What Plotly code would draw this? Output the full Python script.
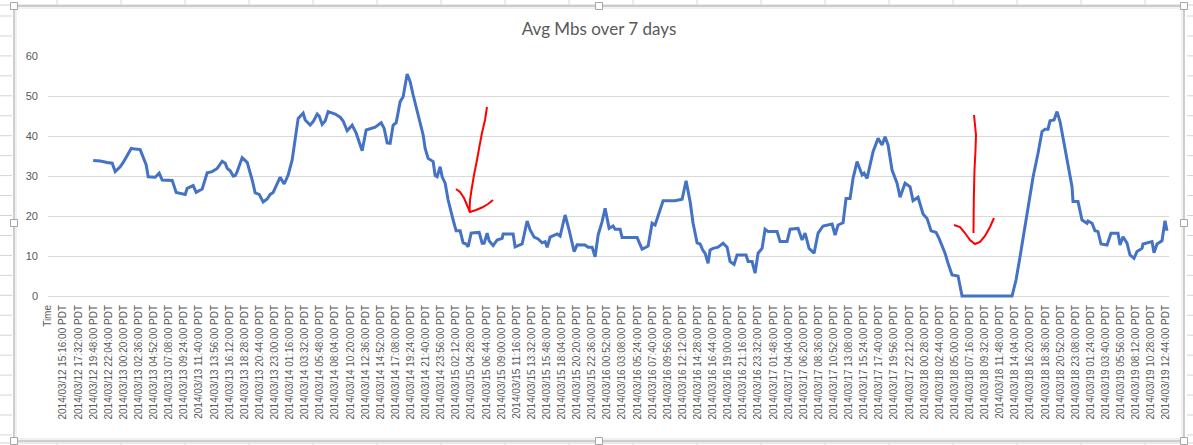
import pandas as pd
import plotly.graph_objects as go

# ---- data -------------------------------------------------------------
title_text = "Avg Mbs over 7 days"
axis_header = "Time"
series_start = "2014-03-12 15:16:00"
last_label_time = "2014-03-19 12:44:00"
label_step_minutes = 136

# elapsed minutes since series_start for each sample
minutes = [270, 333, 396, 441, 468, 513, 540, 576, 612, 630,
           693, 747, 765, 828, 864, 891, 981, 1017, 1098, 1116,
           1170, 1197, 1251, 1296, 1341, 1386, 1431, 1458, 1476, 1503,
           1530, 1548, 1566, 1611, 1656, 1701, 1728, 1764, 1800, 1836,
           1863, 1890, 1953, 1989, 2025, 2061, 2088, 2115, 2160, 2178,
           2223, 2250, 2286, 2304, 2331, 2358, 2385, 2448, 2493, 2520,
           2556, 2601, 2637, 2664, 2691, 2727, 2763, 2808, 2862, 2889,
           2916, 2943, 2970, 2997, 3033, 3060, 3096, 3123, 3150, 3177,
           3195, 3240, 3258, 3285, 3330, 3348, 3366, 3393, 3411, 3438,
           3465, 3492, 3510, 3537, 3573, 3600, 3627, 3645, 3672, 3699,
           3744, 3771, 3789, 3816, 3834, 3870, 3906, 3951, 3960, 4050,
           4068, 4131, 4176, 4203, 4239, 4275, 4311, 4338, 4356, 4383,
           4446, 4473, 4518, 4554, 4599, 4626, 4698, 4725, 4761, 4788,
           4815, 4851, 4878, 4914, 4950, 4968, 5013, 5031, 5166, 5211,
           5265, 5301, 5328, 5364, 5400, 5508, 5571, 5607, 5643, 5670,
           5706, 5733, 5760, 5778, 5805, 5823, 5850, 5895, 5940, 5976,
           6003, 6039, 6066, 6147, 6165, 6201, 6228, 6255, 6291, 6318,
           6345, 6426, 6453, 6516, 6543, 6615, 6651, 6678, 6714, 6759,
           6795, 6840, 6921, 6948, 6975, 7020, 7047, 7083, 7110, 7146,
           7191, 7209, 7236, 7290, 7335, 7371, 7398, 7425, 7461, 7506,
           7533, 7578, 7623, 7650, 7695, 7740, 7776, 7812, 7857, 7884,
           7938, 7965, 8001, 8055, 8091, 8541, 8577, 8613, 8658, 8703,
           8730, 8775, 8811, 8838, 8865, 8883, 8919, 8946, 8973, 9009,
           9045, 9081, 9090, 9135, 9171, 9216, 9225, 9261, 9288, 9315,
           9342, 9396, 9432, 9495, 9513, 9540, 9576, 9603, 9639, 9666,
           9711, 9720, 9801, 9819, 9846, 9891, 9918, 9936]

avg_mbs = [33.9, 33.75, 33.4, 33.2, 31.1, 32.3, 33.4, 35.25, 36.9, 36.8,
           36.6, 32.75, 29.8, 29.7, 30.7, 29, 28.9, 25.9, 25.4, 26.9,
           27.6, 25.9, 26.75, 30.8, 31.1, 31.9, 33.7, 33.2, 31.9, 31.3,
           30, 30.1, 31.1, 34.6, 33.4, 29, 25.8, 25.4, 23.5, 24.25,
           25.4, 25.9, 29.7, 28, 30.25, 34, 39.4, 44.4, 45.7, 44,
           42.75, 43.6, 45.5, 45, 42.9, 43.75, 46.1, 45.5, 44.7, 43.75,
           41.3, 42.7, 40.7, 38.6, 36.3, 41.5, 41.9, 42.2, 43.3, 41.9,
           38.3, 38.2, 42.75, 43.3, 48.6, 49.8, 55.5, 53.6, 50.25, 47.3,
           45.7, 40.25, 36.9, 34.4, 33.6, 30.1, 29.8, 32.3, 29.8, 28.2,
           24, 20.7, 19, 16.3, 16.3, 13.3, 13, 12.3, 15.7, 15.8,
           15.9, 13.2, 13.2, 15.7, 13.8, 12.6, 14, 14.4, 15.5, 15.5,
           12.3, 13, 18.75, 16.5, 14.7, 14.25, 13.3, 13.6, 12.2, 14.7,
           15.5, 15, 20.25, 16.5, 11.1, 12.8, 12.75, 12.2, 12.2, 9.8,
           15.25, 18.6, 21.9, 16.9, 17.5, 16.7, 16.7, 14.6, 14.6, 11.7,
           12.5, 18.2, 17.75, 20.8, 23.8, 23.8, 24.2, 28.8, 23.6, 18.2,
           13.3, 13, 11.3, 10.7, 8.2, 11.5, 11.9, 12.2, 13.2, 12.2,
           8.6, 7.9, 10.25, 10.25, 8.6, 8.6, 5.7, 10.7, 11.9, 16.7,
           16.1, 16.1, 13.6, 13.6, 16.7, 16.9, 14, 15.7, 11.9, 10.7,
           15.7, 17.5, 18, 15.25, 17.75, 18.3, 24.4, 24.4, 29.4, 33.6,
           30.25, 30.7, 29.4, 36.1, 39.4, 37.75, 39.8, 37.75, 31.5, 28.2,
           24.7, 28.2, 27.3, 23.8, 24.7, 20.5, 19.4, 16.3, 15.9, 14.4,
           10.7, 8.2, 5.25, 5, 0, 0, 4, 9.8, 17.75, 24.8,
           29.7, 35.7, 41.1, 41.7, 41.7, 43.8, 44, 46.1, 43.6, 38.2,
           32.3, 27.3, 23.6, 23.6, 19, 18.2, 18.75, 18.2, 16.3, 16.1,
           13, 12.75, 15.7, 15.7, 12.75, 14.8, 13.2, 10.25, 9.4, 11.1,
           11.9, 13, 13.6, 10.8, 13, 13.8, 18.8, 16.3]

y_ticks = [0, 10, 20, 30, 40, 50, 60]

# ---- derived ----------------------------------------------------------
t0 = pd.Timestamp(series_start)
times = [t0 + pd.Timedelta(minutes=m) for m in minutes]
label_times = list(pd.date_range(series_start, last_label_time,
                                 freq=f"{label_step_minutes}min"))
tick_vals = [t0 - pd.Timedelta(minutes=label_step_minutes)] + label_times
tick_text = [axis_header] + [t.strftime("%Y/%m/%d %H:%M:%S PDT") for t in label_times]
x_range = [t0 - pd.Timedelta(minutes=137), t0 + pd.Timedelta(minutes=9954)]

# ---- layout geometry (pixels) ------------------------------------------
FW, FH = 1193, 445
L, R, T, B = 48, 24, 56, 147
W, H = FW - L - R, FH - T - B


def P(px, py):
    return (px - L) / W, (T + H - py) / H


def path(points):
    pts = [P(x, y) for x, y in points]
    return "M " + " L ".join(f"{x:.5f},{y:.5f}" for x, y in pts)


GRAY = "#595959"
shapes = []

# spreadsheet cell lines around the chart object
sheet_col = "#d4d4d4"
x0p, _ = P(0, 0)
x1p, _ = P(FW, 0)
_, ytop = P(0, 5)
shapes.append(dict(type="line", xref="paper", yref="paper", x0=x0p, x1=x1p,
                   y0=ytop, y1=ytop, line=dict(color=sheet_col, width=1)))
_, ybot = P(0, 443)
shapes.append(dict(type="line", xref="paper", yref="paper", x0=x0p, x1=x1p,
                   y0=ybot, y1=ybot, line=dict(color=sheet_col, width=1)))
for k in range(18):
    cx = 57 + 64 * k
    a = P(cx, 0); b = P(cx, 5)
    shapes.append(dict(type="line", xref="paper", yref="paper", x0=a[0], x1=b[0],
                       y0=a[1], y1=b[1], line=dict(color=sheet_col, width=1)))
    a = P(cx, 443); b = P(cx, FH)
    shapes.append(dict(type="line", xref="paper", yref="paper", x0=a[0], x1=b[0],
                       y0=a[1], y1=b[1], line=dict(color=sheet_col, width=1)))
for k in range(22):
    ry = 16 + 19.95 * k
    for xa, xb in ((0, 12), (1187, FW)):
        a = P(xa, ry); b = P(xb, ry)
        shapes.append(dict(type="line", xref="paper", yref="paper", x0=a[0], x1=b[0],
                           y0=a[1], y1=b[1], line=dict(color=sheet_col, width=1)))

# chart object frame
a = P(14, 6); b = P(1184, 441)
shapes.append(dict(type="rect", xref="paper", yref="paper", x0=a[0], y0=a[1],
                   x1=b[0], y1=b[1], line=dict(color="#bfbfbf", width=1.5)))
a = P(16, 8); b = P(1182, 439)
shapes.append(dict(type="rect", xref="paper", yref="paper", x0=a[0], y0=a[1],
                   x1=b[0], y1=b[1], line=dict(color="#e3e3e3", width=1)))
for hx, hy in [(14, 6), (599, 6), (1184, 6), (14, 223), (1184, 223),
               (14, 441), (599, 441), (1184, 441)]:
    a = P(hx - 3.5, hy - 3.5); b = P(hx + 3.5, hy + 3.5)
    shapes.append(dict(type="rect", xref="paper", yref="paper", x0=a[0], y0=a[1],
                       x1=b[0], y1=b[1], fillcolor="white",
                       line=dict(color="#a6a6a6", width=1)))

# red hand-drawn arrows
ink = dict(color="#ff0000", width=2)
shapes.append(dict(type="path", xref="paper", yref="paper", line=ink, path=path(
    [(487, 107), (485, 120), (482, 133), (479.5, 146), (477, 160), (474, 175),
     (471.5, 190), (470, 200), (469.5, 212)])))
shapes.append(dict(type="path", xref="paper", yref="paper", line=ink, path=path(
    [(456, 189), (460, 192), (464, 198), (467, 205), (470, 212), (476, 210),
     (482, 207.5), (488, 204), (493, 200)])))
shapes.append(dict(type="path", xref="paper", yref="paper", line=ink, path=path(
    [(974, 115), (976, 135), (975.5, 150), (974.5, 170), (973.8, 200), (973.5, 233)])))
shapes.append(dict(type="path", xref="paper", yref="paper", line=ink, path=path(
    [(954, 225), (960, 227), (965, 233), (970, 240), (975, 244), (980, 242),
     (985, 236), (990, 227), (994, 218)])))

fig = go.Figure()
fig.add_trace(go.Scatter(x=times, y=avg_mbs, mode="lines",
                         line=dict(color="#4472C4", width=3),
                         hoverinfo="x+y", showlegend=False))

fig.update_layout(
    width=FW, height=FH,
    margin=dict(l=L, r=R, t=T, b=B, pad=0),
    paper_bgcolor="white", plot_bgcolor="white",
    title=dict(text=title_text, x=599 / FW, xanchor="center",
               y=1 - 29 / FH, yanchor="middle", xref="container", yref="container",
               font=dict(family="Lato", size=17, color=GRAY)),
    xaxis=dict(type="date", range=x_range, tickmode="array",
               tickvals=tick_vals, ticktext=tick_text, tickangle=-90,
               showgrid=False, zeroline=False, showline=False, ticks="",
               ticklabelstandoff=4,
               tickfont=dict(family="Liberation Sans", size=10, color=GRAY)),
    yaxis=dict(range=[-0.5, 60], tickmode="array", tickvals=y_ticks,
               showgrid=True, gridcolor="#d9d9d9", gridwidth=1,
               zeroline=False, showline=False, ticks="", ticklabelstandoff=9,
               tickfont=dict(family="Liberation Sans", size=11, color=GRAY)),
    shapes=shapes,
)

fig.write_html("out.html", config={"displayModeBar": False},
               post_script="document.body.style.margin='0';")
